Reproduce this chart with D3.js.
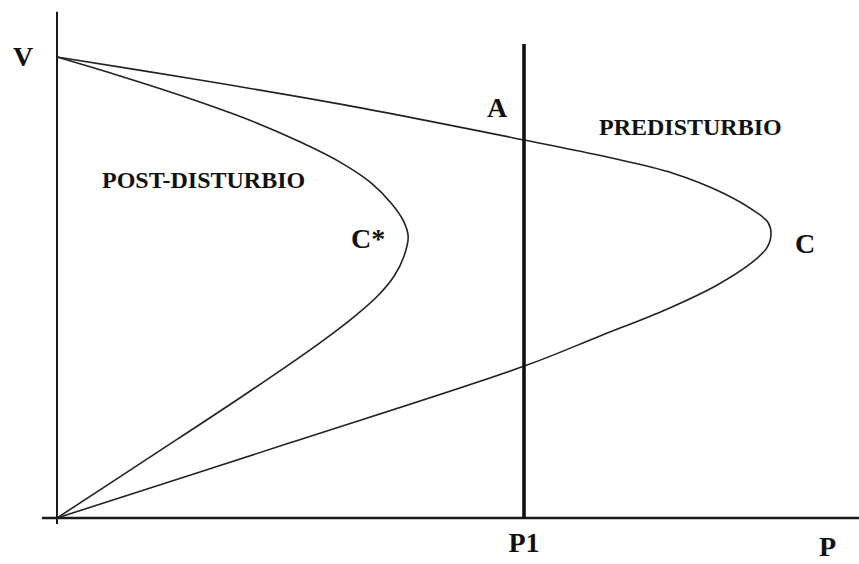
<!DOCTYPE html>
<html>
<head>
<meta charset="utf-8">
<script src="https://cdn.jsdelivr.net/npm/d3@7"></script>
<style>
  html, body { margin: 0; padding: 0; background: #fff; }
  svg { display: block; }
  text { font-family: "Liberation Serif", "Times New Roman", serif; font-weight: bold; fill: #111; }
</style>
</head>
<body>
<div id="chart"></div>
<script>
// curva P-V prima del disturbo (ramo alto, naso C, ramo basso)
const preP = [0, 0.306, 0.627, 1.0, 1.178, 1.319, 1.426, 1.499, 1.522, 1.529, 1.520, 1.484, 1.413, 1.306, 1.163, 1.002, 0.499, 0];
const preV = [1.0, 0.950, 0.894, 0.820, 0.783, 0.748, 0.705, 0.662, 0.642, 0.618, 0.586, 0.551, 0.505, 0.453, 0.395, 0.330, 0.163, 0];

// curva P-V dopo il disturbo (naso C*)
const postP = [0, 0.135, 0.270, 0.413, 0.520, 0.606, 0.670, 0.717, 0.743, 0.752, 0.743, 0.722, 0.687, 0.638, 0.563, 0.413, 0.199, 0];
const postV = [1.0, 0.959, 0.915, 0.863, 0.816, 0.772, 0.729, 0.681, 0.642, 0.610, 0.568, 0.525, 0.482, 0.438, 0.380, 0.275, 0.132, 0];

const P1 = 1.0;
const labels = ["V", "A", "PREDISTURBIO", "POST-DISTURBIO", "C*", "C", "P1", "P"];

let width = 859,
    height = 564;

const svg = d3.select("#chart")
    .append("svg")
    .attr("width", width)
    .attr("height", height)
    .attr("viewBox", [0, 0, width, height]);

let xScale = d3.scaleLinear().domain([0, 1]).range([57, 524]);
let yScale = d3.scaleLinear().domain([0, 1]).range([518, 57]);

const line = d3.line()
    .x(d => xScale(d[0]))
    .y(d => yScale(d[1]))
    .curve(d3.curveCatmullRom.alpha(0.5));

// assi
svg.append("line")
    .attr("x1", xScale(0)).attr("x2", xScale(0))
    .attr("y1", yScale(-0.013)).attr("y2", yScale(1.098))
    .attr("stroke", "#1a1a1a").attr("stroke-width", 2);

svg.append("line")
    .attr("x1", xScale(-0.032)).attr("x2", width)
    .attr("y1", yScale(0)).attr("y2", yScale(0))
    .attr("stroke", "#1a1a1a").attr("stroke-width", 2.4);

// curve
const curves = [d3.zip(preP, preV), d3.zip(postP, postV)];
svg.selectAll("path.pv")
    .data(curves)
    .enter().append("path")
        .attr("class", "pv")
        .attr("d", line)
        .attr("fill", "none")
        .attr("stroke", "#222")
        .attr("stroke-width", 1.6);

// linea di carico P1
svg.append("line")
    .attr("x1", xScale(P1)).attr("x2", xScale(P1))
    .attr("y1", yScale(0)).attr("y2", yScale(1.028))
    .attr("stroke", "#111").attr("stroke-width", 3.6);

// etichette
const big = 28;
function label(t, x, y, size, anchor) {
    svg.append("text")
        .attr("x", x).attr("y", y)
        .attr("font-size", size)
        .attr("text-anchor", anchor || "start")
        .text(t);
}
label(labels[0], 13, 66, big);
label(labels[1], xScale(P1) - 37, 117, big);
label(labels[2], 599, 135, 24);
label(labels[3], 102, 188, 24);
label(labels[4], 351, 248, big);
label(labels[5], 795, 253, big);
label(labels[6], xScale(P1), 552, big, "middle");
label(labels[7], 819, 556, big);
</script>
</body>
</html>
